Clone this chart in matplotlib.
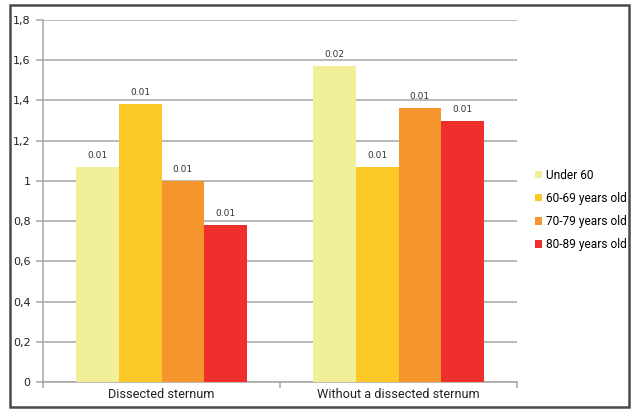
import matplotlib
matplotlib.use("Agg")
import matplotlib.pyplot as plt
import numpy as np
from matplotlib.patches import Rectangle
from matplotlib.font_manager import FontProperties

categories = ["Dissected sternum", "Without a dissected sternum"]
series_names = ["Under 60", "60-69 years old", "70-79 years old", "80-89 years old"]
under_60 = [1.07, 1.57]
age_60_69 = [1.38, 1.07]
age_70_79 = [1.00, 1.36]
age_80_89 = [0.78, 1.30]
bar_labels = [["0.01", "0.02"], ["0.01", "0.01"], ["0.01", "0.01"], ["0.01", "0.01"]]
y_ticks = [0, 0.2, 0.4, 0.6, 0.8, 1.0, 1.2, 1.4, 1.6, 1.8]
y_tick_labels = ["0", "0,2", "0,4", "0,6", "0,8", "1", "1,2", "1,4", "1,6", "1,8"]

colors = ["#F2EF9B", "#FCC827", "#F4962D", "#EE2F2C"]
values = [under_60, age_60_69, age_70_79, age_80_89]

cat_font = FontProperties(family="Roboto", size=9.2)
leg_font = FontProperties(family="Roboto", size=8.6)

W, H = 631, 409
fig = plt.figure(figsize=(W / 100, H / 100), dpi=100)

# outer frame
fig.patches.append(Rectangle((10 / W, 1 - 407 / H), 619 / W, 402 / H,
                             transform=fig.transFigure, fill=False,
                             edgecolor="#4a4a4a", linewidth=1.8))

left, right, top, bottom = 43, 517, 20, 382
ax = fig.add_axes([left / W, 1 - bottom / H, (right - left) / W, (bottom - top) / H])

n = len(series_names)
x = np.arange(len(categories))
width = 0.18
for i, (name, vals, col) in enumerate(zip(series_names, values, colors)):
    pos = x + (i - (n - 1) / 2) * width
    bars = ax.bar(pos, vals, width, color=col, label=name, zorder=3)
    for b, lab in zip(bars, bar_labels[i]):
        ax.text(b.get_x() + b.get_width() / 2, b.get_height() + 0.035, lab,
                ha="center", va="bottom", fontsize=6.5, color="#333333", zorder=4)

ax.set_xlim(-0.5, 1.5)
ax.set_ylim(0, 1.8)
ax.set_yticks(y_ticks)
ax.set_yticklabels(y_tick_labels, fontsize=8, color="#222222")
ax.yaxis.grid(True, color="#a6a6a6", linewidth=1.1, zorder=0)
ax.set_axisbelow(True)

ax.set_xticks([-0.5, 0.5, 1.5])
ax.set_xticklabels([])
ax.tick_params(axis="x", length=4, color="#a6a6a6", width=1.1)
ax.tick_params(axis="y", length=5, color="#a6a6a6", width=1.1, pad=4)
for i, c in enumerate(categories):
    ax.text(x[i], -0.03, c, ha="center", va="top", fontproperties=cat_font,
            color="#222222", transform=ax.transData)

for s in ["top", "right"]:
    ax.spines[s].set_visible(False)
for s in ["left", "bottom"]:
    ax.spines[s].set_color("#a6a6a6")
    ax.spines[s].set_linewidth(1.1)

leg = fig.legend(loc="upper left", bbox_to_anchor=(524 / W, 1 - 158 / H),
                 frameon=False, prop=leg_font,
                 handlelength=0.6, handleheight=0.6, handletextpad=0.3,
                 labelspacing=0.85)

fig.savefig("out.png", dpi=100)
